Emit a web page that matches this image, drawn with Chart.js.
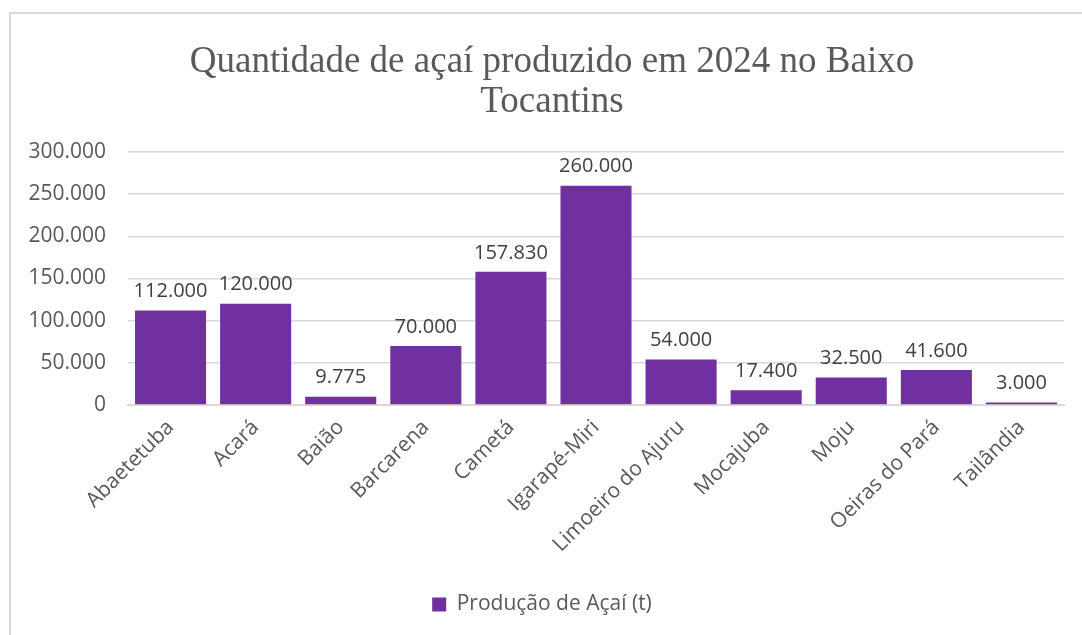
<!DOCTYPE html>
<html>
<head>
<meta charset="utf-8">
<script src="https://cdn.jsdelivr.net/npm/chart.js@4"></script>
<style>
  body { margin: 0; background: #fff; }
  #frame { position: absolute; left: 9px; top: 12px; width: 1090px; height: 700px; border: 2px solid #d9d9d9; box-sizing: border-box; }
  #wrap { position: absolute; left: 0; top: 0; width: 1082px; height: 635px; }
</style>
</head>
<body>
<div id="frame"></div>
<div id="wrap"><canvas id="chart"></canvas></div>
<script>
// dados do grafico
const municipios = ["Abaetetuba", "Acará", "Baião", "Barcarena", "Cametá", "Igarapé-Miri",
  "Limoeiro do Ajuru", "Mocajuba", "Moju", "Oeiras do Pará", "Tailândia"];
const producao = [112000, 120000, 9775, 70000, 157830, 260000, 54000, 17400, 32500, 41600, 3000];
const serie_label = "Produção de Açaí (t)";
const titulo = ["Quantidade de açaí produzido em 2024 no Baixo", "Tocantins"];

const roxo = "#7030A0";
const cinza = "#595959";
const fmt = v => v.toLocaleString("pt-BR");

// escreve o valor em cima de cada barra
const rotulos = {
  id: "rotulos",
  afterLayout(chart) {
    // o titulo do original fica um pouco deslocado para a direita
    if (chart.titleBlock) chart.titleBlock.left += 20;
  },
  afterDatasetsDraw(chart) {
    const ctx = chart.ctx;
    const meta = chart.getDatasetMeta(0);
    ctx.save();
    ctx.font = "20px 'Open Sans'";
    ctx.fillStyle = "#404040";
    ctx.textAlign = "center";
    ctx.textBaseline = "bottom";
    meta.data.forEach((bar, i) => {
      ctx.fillText(fmt(producao[i]), bar.x, bar.y - 9);
    });
    ctx.restore();
  }
};

const ctx = document.getElementById("chart").getContext("2d");
const chart = new Chart(ctx, {
  type: "bar",
  data: {
    labels: municipios,
    datasets: [{
      label: serie_label,
      data: producao,
      backgroundColor: roxo,
      borderWidth: 0,
      barPercentage: 0.835,
      categoryPercentage: 1
    }]
  },
  options: {
    responsive: true,
    maintainAspectRatio: false,
    animation: false,
    layout: { padding: { left: 20, right: 18, top: 12, bottom: 10 } },
    plugins: {
      title: {
        display: true,
        text: titulo,
        color: cinza,
        font: { family: "'Liberation Serif', 'Times New Roman', serif", size: 37, weight: "normal", lineHeight: 1.08 },
        padding: { top: 30, bottom: 30 }
      },
      legend: {
        position: "bottom",
        labels: {
          color: cinza,
          font: { family: "'Open Sans'", size: 21 },
          boxWidth: 14,
          boxHeight: 14,
          padding: 10
        }
      },
      tooltip: { enabled: false }
    },
    scales: {
      x: {
        grid: { display: false, drawTicks: false },
        border: { color: "#d9d9d9", width: 2 },
        ticks: {
          color: cinza,
          font: { family: "'Open Sans'", size: 21 },
          minRotation: 45,
          maxRotation: 45,
          padding: 10
        },
        afterFit(scale) { scale.height = 179; }
      },
      y: {
        min: 0,
        max: 300000,
        grid: { color: "#d9d9d9", lineWidth: 1.5, drawTicks: false },
        border: { display: false },
        ticks: {
          stepSize: 50000,
          color: cinza,
          font: { family: "'Open Sans'", size: 21 },
          padding: 22,
          callback: v => fmt(v)
        },
        afterFit(scale) { scale.width = 108; }
      }
    }
  },
  plugins: [rotulos]
});
</script>
</body>
</html>
